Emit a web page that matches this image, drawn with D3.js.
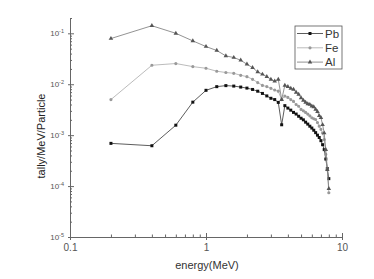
<!DOCTYPE html>
<html>
<head>
<meta charset="utf-8">
<script src="https://cdn.jsdelivr.net/npm/d3@7"></script>
<style>
  body { margin: 0; background: #fff; }
  text { font-family: "Liberation Sans", Arial, sans-serif; }
</style>
</head>
<body>
<div id="chart"></div>
<script>
// energies (MeV), 0.2 MeV bins
const energy = [0.2, 0.4, 0.6, 0.8, 1.0, 1.2, 1.4, 1.6, 1.8, 2.0,
    2.2, 2.4, 2.6, 2.8, 3.0, 3.2, 3.4, 3.6, 3.8, 4.0,
    4.2, 4.4, 4.6, 4.8, 5.0, 5.2, 5.4, 5.6, 5.8, 6.0,
    6.2, 6.4, 6.6, 6.8, 7.0, 7.2, 7.4, 7.6, 7.8, 8.0];

const pb = [6.9e-4, 6.2e-4, 1.57e-3, 4.45e-3, 7.6e-3, 8.97e-3, 9.4e-3, 9.2e-3, 8.8e-3, 8.4e-3,
    7.9e-3, 7.3e-3, 6.6e-3, 5.9e-3, 5.3e-3, 5.0e-3, 4.4e-3, 1.6e-3, 3.8e-3, 3.4e-3,
    3.1e-3, 2.8e-3, 2.6e-3, 2.35e-3, 2.15e-3, 2.0e-3, 1.8e-3, 1.65e-3, 1.5e-3, 1.38e-3,
    1.25e-3, 1.12e-3, 1.0e-3, 9.0e-4, 7.8e-4, 6.5e-4, 5.2e-4, 3.4e-4, 2.2e-4, 1.4e-4];

const fe = [5.0e-3, 2.36e-2, 2.55e-2, 2.22e-2, 2.06e-2, 1.8e-2, 1.7e-2, 1.64e-2, 1.5e-2, 1.41e-2,
    1.25e-2, 1.08e-2, 9.5e-3, 9.0e-3, 8.3e-3, 7.7e-3, 7.3e-3, 5.0e-3, 5.85e-3, 5.5e-3,
    5.0e-3, 4.6e-3, 4.0e-3, 3.7e-3, 3.2e-3, 3.0e-3, 2.8e-3, 2.6e-3, 2.4e-3, 2.2e-3,
    2.1e-3, 2.03e-3, 1.77e-3, 1.5e-3, 1.3e-3, 1.1e-3, 8.2e-4, 4.2e-4, 2.1e-4, 7.4e-5];

const al = [7.9e-2, 1.41e-1, 1.0e-1, 7.1e-2, 5.5e-2, 4.6e-2, 3.6e-2, 3.35e-2, 2.96e-2, 2.47e-2,
    2.12e-2, 1.74e-2, 1.57e-2, 1.41e-2, 1.25e-2, 1.15e-2, 1.25e-2, 5.0e-3, 9.5e-3, 9.0e-3,
    8.3e-3, 7.9e-3, 6.9e-3, 6.3e-3, 5.4e-3, 4.8e-3, 4.4e-3, 4.1e-3, 4.0e-3, 3.7e-3,
    3.6e-3, 3.2e-3, 2.9e-3, 2.4e-3, 2.2e-3, 1.6e-3, 1.1e-3, 5.2e-4, 2.1e-4, 8.9e-5];

const seriesNames = ["Pb", "Fe", "Al"];
const xTicks = [0.1, 1, 10];
const xTickLabels = ["0.1", "1", "10"];
const yTicks = [1e-5, 1e-4, 1e-3, 1e-2, 1e-1];
const yTickExp = ["-5", "-4", "-3", "-2", "-1"];

const W = 374, H = 279;
const plot = {left: 70, right: 342, top: 18, bottom: 237};

const svg = d3.select("#chart").append("svg")
    .attr("width", W)
    .attr("height", H);

const x = d3.scaleLog().domain([0.1, 10]).range([plot.left, plot.right]);
const y = d3.scaleLog().domain([1e-5, 0.2]).range([plot.bottom, plot.top]);

// minor tick values
let xMinor = [], yMinor = [];
[0.1, 1].forEach(b => { for (let k = 2; k <= 9; k++) xMinor.push(b * k); });
[1e-5, 1e-4, 1e-3, 1e-2, 1e-1].forEach(b => {
    for (let k = 2; k <= 9; k++) if (b * k <= 0.2) yMinor.push(b * k);
});

const axisColor = "#666";

// x axis
const gx = svg.append("g").attr("transform", `translate(0,${plot.bottom})`);
gx.call(d3.axisBottom(x).tickValues(xTicks).tickSizeInner(3).tickSizeOuter(0)
    .tickFormat((d, i) => xTickLabels[i]).tickPadding(4));
svg.append("g").attr("transform", `translate(0,${plot.bottom})`)
    .call(d3.axisBottom(x).tickValues(xTicks).tickSize(-4).tickFormat(""))
    .call(g => g.select(".domain").remove());
svg.append("g").attr("transform", `translate(0,${plot.bottom})`)
    .call(d3.axisBottom(x).tickValues(xMinor).tickSize(-2.5).tickFormat(""))
    .call(g => g.select(".domain").remove());

// y axis
const gy = svg.append("g").attr("transform", `translate(${plot.left},0)`);
gy.call(d3.axisLeft(y).tickValues(yTicks).tickSizeInner(2).tickSizeOuter(0)
    .tickFormat("").tickPadding(4));
gy.selectAll(".tick text").each(function (d, i) {
    const t = d3.select(this);
    t.append("tspan").text("10");
    t.append("tspan").attr("dy", -3.5).attr("font-size", 5.5).text(yTickExp[i]);
});
svg.append("g").attr("transform", `translate(${plot.left},0)`)
    .call(d3.axisLeft(y).tickValues(yTicks).tickSize(-4).tickFormat(""))
    .call(g => g.select(".domain").remove());
svg.append("g").attr("transform", `translate(${plot.left},0)`)
    .call(d3.axisLeft(y).tickValues(yMinor).tickSize(-2).tickFormat(""))
    .call(g => g.select(".domain").remove());

svg.selectAll(".domain, .tick line").attr("stroke", axisColor);
gx.selectAll(".tick text").attr("font-size", 10).attr("fill", "#555");
gy.selectAll(".tick text").attr("font-size", 8).attr("fill", "#555").attr("font-family", "Liberation Sans, Arial, sans-serif");

// axis titles
svg.append("text")
    .attr("x", (plot.left + plot.right) / 2 + 1)
    .attr("y", 269)
    .attr("text-anchor", "middle")
    .attr("font-size", 11)
    .attr("fill", "#333")
    .text("energy(MeV)");

svg.append("text")
    .attr("transform", "translate(45,136) rotate(-90)")
    .attr("text-anchor", "middle")
    .attr("font-size", 11)
    .attr("fill", "#222")
    .text("tally/MeV/Particle");

// series
const series = [
    {name: seriesNames[0], values: pb, line: "#333", fill: "#111", shape: d3.symbolSquare, size: 9},
    {name: seriesNames[1], values: fe, line: "#aaa", fill: "#999", shape: d3.symbolCircle, size: 8},
    {name: seriesNames[2], values: al, line: "#777", fill: "#555", shape: d3.symbolTriangle, size: 9}
];

const line = d3.line()
    .x(d => x(d[0]))
    .y(d => y(d[1]));

series.forEach(s => {
    const pts = energy.map((e, i) => [e, s.values[i]]);
    svg.append("path")
        .datum(pts)
        .attr("fill", "none")
        .attr("stroke", s.line)
        .attr("stroke-width", 0.8)
        .attr("d", line);
    svg.append("g").selectAll("path")
        .data(pts)
        .enter().append("path")
        .attr("transform", d => `translate(${x(d[0])},${y(d[1])})`)
        .attr("d", d3.symbol().type(s.shape).size(s.size))
        .attr("fill", s.fill);
});

// legend
const legend = svg.append("g").attr("transform", "translate(295,26)");
legend.append("rect")
    .attr("width", 47)
    .attr("height", 43)
    .attr("fill", "#fff")
    .attr("stroke", "#555")
    .attr("stroke-width", 0.8);

series.forEach((s, i) => {
    const ly = 7.5 + i * 14.3;
    legend.append("line")
        .attr("x1", 2).attr("x2", 28)
        .attr("y1", ly).attr("y2", ly)
        .attr("stroke", s.line)
        .attr("stroke-width", 0.8);
    legend.append("path")
        .attr("transform", `translate(15,${ly})`)
        .attr("d", d3.symbol().type(s.shape).size(s.size))
        .attr("fill", s.fill);
    legend.append("text")
        .attr("x", 30)
        .attr("y", ly + 4)
        .attr("font-size", 11.5)
        .attr("fill", "#333")
        .text(s.name);
});
</script>
</body>
</html>
